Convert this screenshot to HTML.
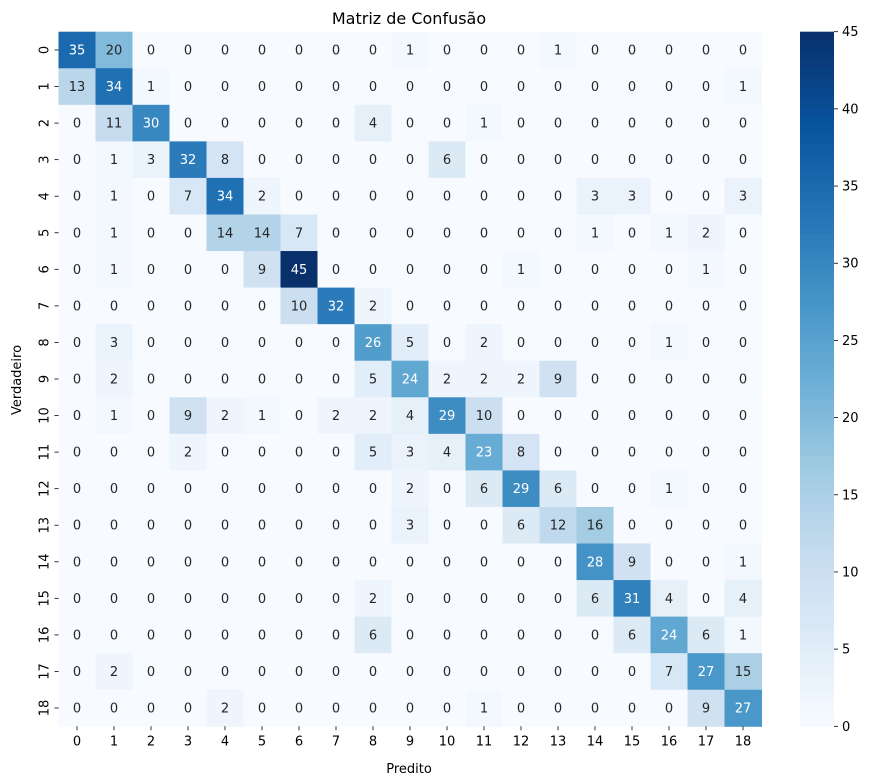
<!DOCTYPE html>
<html><head><meta charset="utf-8">
<style>
html,body{margin:0;padding:0;background:#fff;}
svg{display:block;font-family:"DejaVu Sans","Liberation Sans",sans-serif;}
</style></head>
<body>
<svg id="chart" width="869" height="780" xmlns="http://www.w3.org/2000/svg">
<text x="409" y="24" text-anchor="middle" font-size="16" fill="#000">Matriz de Confusão</text>
<text x="409" y="773" text-anchor="middle" font-size="13" fill="#000">Predito</text>
<text transform="translate(21,380) rotate(-90)" text-anchor="middle" font-size="13" fill="#000">Verdadeiro</text>
<g id="cells"></g>
<g id="colorbar"></g>
</svg>
<script>
const labels = ["0","1","2","3","4","5","6","7","8","9","10","11","12","13","14","15","16","17","18"];
const matrix = [
[35,20,0,0,0,0,0,0,0,1,0,0,0,1,0,0,0,0,0],
[13,34,1,0,0,0,0,0,0,0,0,0,0,0,0,0,0,0,1],
[0,11,30,0,0,0,0,0,4,0,0,1,0,0,0,0,0,0,0],
[0,1,3,32,8,0,0,0,0,0,6,0,0,0,0,0,0,0,0],
[0,1,0,7,34,2,0,0,0,0,0,0,0,0,3,3,0,0,3],
[0,1,0,0,14,14,7,0,0,0,0,0,0,0,1,0,1,2,0],
[0,1,0,0,0,9,45,0,0,0,0,0,1,0,0,0,0,1,0],
[0,0,0,0,0,0,10,32,2,0,0,0,0,0,0,0,0,0,0],
[0,3,0,0,0,0,0,0,26,5,0,2,0,0,0,0,1,0,0],
[0,2,0,0,0,0,0,0,5,24,2,2,2,9,0,0,0,0,0],
[0,1,0,9,2,1,0,2,2,4,29,10,0,0,0,0,0,0,0],
[0,0,0,2,0,0,0,0,5,3,4,23,8,0,0,0,0,0,0],
[0,0,0,0,0,0,0,0,0,2,0,6,29,6,0,0,1,0,0],
[0,0,0,0,0,0,0,0,0,3,0,0,6,12,16,0,0,0,0],
[0,0,0,0,0,0,0,0,0,0,0,0,0,0,28,9,0,0,1],
[0,0,0,0,0,0,0,0,2,0,0,0,0,0,6,31,4,0,4],
[0,0,0,0,0,0,0,0,6,0,0,0,0,0,0,6,24,6,1],
[0,2,0,0,0,0,0,0,0,0,0,0,0,0,0,0,7,27,15],
[0,0,0,0,2,0,0,0,0,0,0,1,0,0,0,0,0,9,27]
];
const cbTicks = [0,5,10,15,20,25,30,35,40,45];
const vmin = 0, vmax = 45;

const NS = "http://www.w3.org/2000/svg";
const L = 58.5, T = 31.7, W = 703, H = 694.6;
const n = labels.length, cw = W / n, ch = H / n;
const xPos = i => L + i * cw;
const yPos = i => T + i * ch;
const stops = ["#f7fbff","#deebf7","#c6dbef","#9ecae1","#6baed6","#4292c6","#2171b5","#08519c","#08306b"];
function hex(c){return [1,3,5].map(k=>parseInt(c.substr(k,2),16));}
function color(v){
  let t = Math.max(0, Math.min(1, (v - vmin) / (vmax - vmin))) * (stops.length - 1);
  let i = Math.min(Math.floor(t), stops.length - 2), f = t - i;
  const a = hex(stops[i]), b = hex(stops[i+1]);
  return "rgb(" + a.map((x,k)=>Math.round(x + (b[k]-x)*f)).join(",") + ")";
}
function mk(tag, attrs, parent){const e=document.createElementNS(NS,tag);for(const k in attrs)e.setAttribute(k,attrs[k]);parent.appendChild(e);return e;}
const g = document.getElementById("cells");
for (let r = 0; r < n; r++) {
  for (let c = 0; c < n; c++) {
    const v = matrix[r][c];
    const rect = mk("rect",{x:xPos(c),y:yPos(r),width:cw+0.5,height:ch+0.5,fill:color(v)},g);
    
    
    const t = mk("text",{x:xPos(c)+cw/2,y:yPos(r)+ch/2+4.5,"text-anchor":"middle","font-size":"13",fill:v>=21?"#fff":"#262626"},g);
    t.textContent = v;
    
    
  }
}
for (let i = 0; i < n; i++) {
  mk("line",{x1:xPos(i)+cw/2,x2:xPos(i)+cw/2,y1:T+H,y2:T+H+4,stroke:"#000","stroke-width":0.8},g);
  const tx = mk("text",{x:xPos(i)+cw/2,y:T+H+19,"text-anchor":"middle","font-size":"13",fill:"#000"},g);
  tx.textContent = labels[i];
  
  
  mk("line",{x1:L-4,x2:L,y1:yPos(i)+ch/2,y2:yPos(i)+ch/2,stroke:"#000","stroke-width":0.8},g);
  const ty = mk("text",{transform:"translate("+(L-10)+","+(yPos(i)+ch/2)+") rotate(-90)","text-anchor":"middle","font-size":"13",fill:"#000"},g);
  ty.textContent = labels[i];
  
  
}
// colorbar
const cb = document.getElementById("colorbar");
const cbX = 800, cbW = 34, cbT = 31.7, cbH = 694.6;
const steps = 100;
for (let s = 0; s < steps; s++) {
  const v = vmin + (vmax - vmin) * (s + 0.5) / steps;
  mk("rect",{x:cbX,y:cbT+cbH-(s+1)*cbH/steps,width:cbW,height:cbH/steps+0.6,fill:color(v)},cb);
}
const cbY = v => cbT + cbH - (v - vmin) / (vmax - vmin) * cbH;
cbTicks.forEach(v => {
  mk("line",{x1:cbX+cbW,x2:cbX+cbW+4,y1:cbY(v),y2:cbY(v),stroke:"#000","stroke-width":0.8},cb);
  const t = mk("text",{x:cbX+cbW+8,y:cbY(v)+4.5,"font-size":"13",fill:"#000"},cb);
  t.textContent = v;
  
  
});
</script>
</body></html>
